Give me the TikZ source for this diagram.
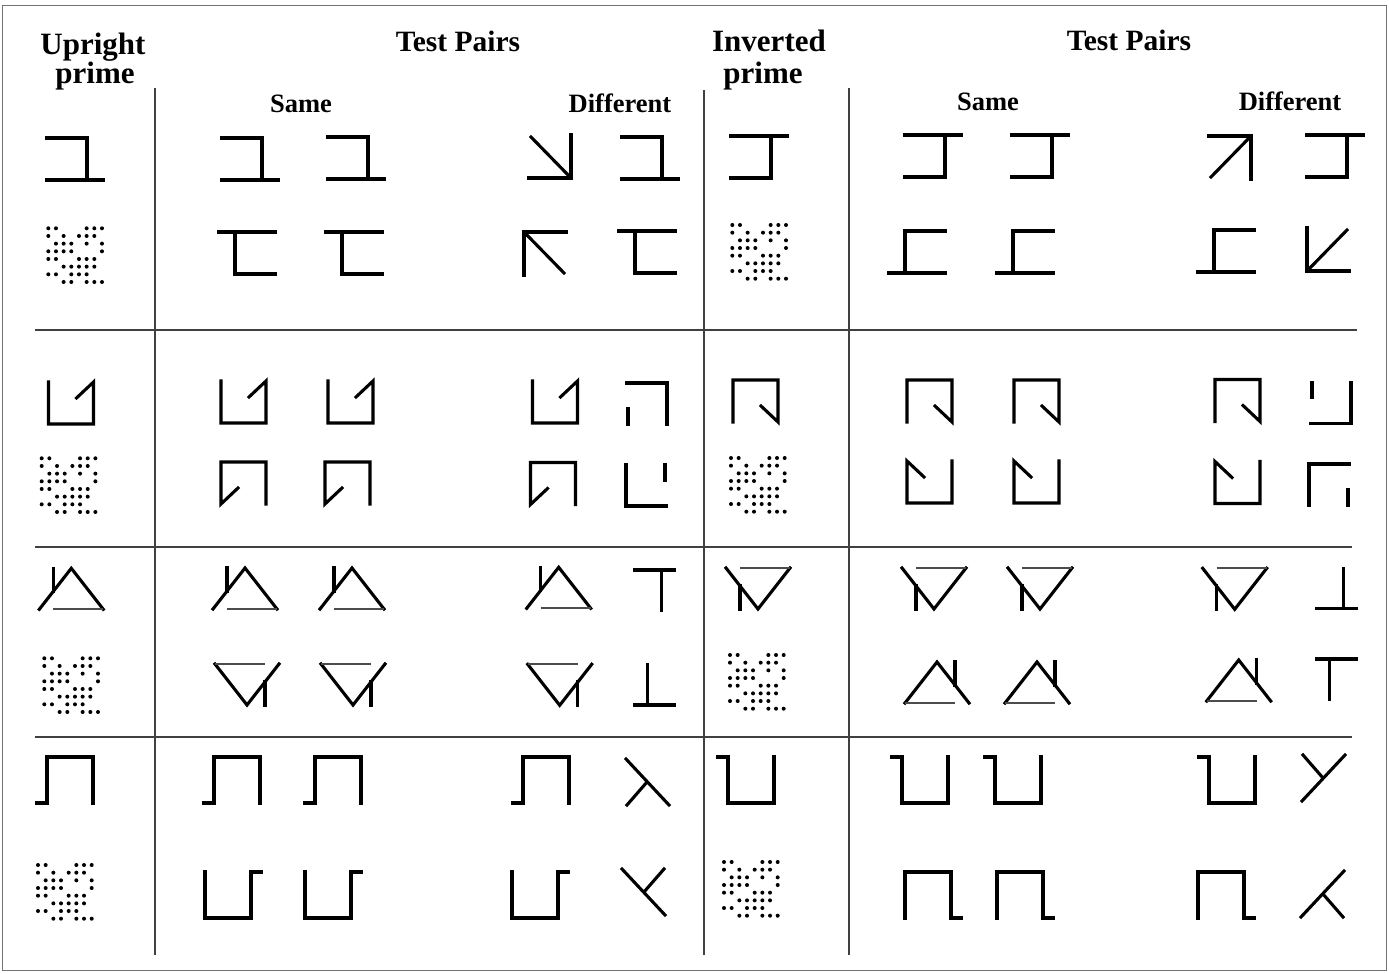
\documentclass[tikz,border=0pt]{standalone}
\usepackage{fontspec}
\setmainfont{Liberation Serif}
\begin{document}
\begin{tikzpicture}[x=1pt,y=-1pt,
  sh/.style={line width=3.1pt,line cap=rect,line join=miter},
  thinbase/.style={line width=1.8pt,black!70},
  gridline/.style={line width=1.4pt,black!75},
  frameline/.style={line width=0.8pt,black!55},
  hd/.style={font=\fontsize{31}{34}\selectfont\bfseries,inner sep=0pt,anchor=base},
  tp/.style={font=\fontsize{29.5}{32}\selectfont\bfseries,inner sep=0pt,anchor=base},
  sub/.style={font=\fontsize{26.5}{30}\selectfont\bfseries,inner sep=0pt,anchor=base},
  turned/.style={rotate=180},
  flipv/.style={yscale=-1},
  fliph/.style={xscale=-1},
  pics/brk/.style={code={\draw[sh] (-28,-21)--(12,-21)--(12,21); \draw[sh] (-28,21)--(28,21);}},
  pics/arw/.style={code={\draw[sh] (21,-21.5)--(21,21.5)--(-21,21.5); \draw[sh] (-19,-19.5)--(21,21.5);}},
  pics/sqp/.style={code={\draw[sh] (-22.5,-21)--(-22.5,21)--(22.5,21)--(22.5,-21)--(5.5,-5);}},
  pics/prt/.style={code={\draw[sh] (-20,-20.5)--(20,-20.5)--(20,20.5); \draw[sh] (-19,5.5)--(-19,20.5);}},
  pics/tri/.style={code={\draw[sh] (-32,20.5)--(0,-20.5)--(32,20.5); \draw[thinbase] (-18,20.5)--(32,20.5); \draw[sh] (-18,-20.5)--(-18,3);}},
  pics/tee/.style={code={\draw[sh] (-20,-20)--(20,-20); \draw[sh] (7,-20)--(7,20);}},
  pics/stp/.style={code={\draw[sh] (-28,23)--(-18,23)--(-18,-23)--(28,-23)--(28,23);}},
  pics/lam/.style={code={\draw[sh] (-21,-22)--(22,24); \draw[sh] (0,1)--(-20,24);}},
  pics/dots/.style={code={
    \foreach \rr/\cs in {0/{0,1,5,6,7},1/{0,2,4,5,6},2/{1,2,3,5,7},3/{0,1,2,3,7},4/{0,1,4,5,6},5/{2,3,4,5,6},6/{0,1,3,4,5},7/{2,3,5,6,7}}
      \foreach \cc in \cs \fill (\cc*7.67,\rr*7.67) circle (2.0pt);}}
]
\useasboundingbox (0,0) rectangle (1389,974);
\fill[white] (0,0) rectangle (1389,974);
\draw[frameline] (2,5) rectangle (1386,970);

% headers
\node[hd] (uptA) at (93,55) {Upright};
\node[hd] (uptB) at (95,84) {prime};
\node[tp] (tpL) at (458,52) {Test Pairs};
\node[sub] (smL) at (301,112) {Same};
\node[sub] (dfL) at (620,112) {Different};
\node[hd] (invA) at (769,52) {Inverted};
\node[hd] (invB) at (763,83) {prime};
\node[tp] (tpR) at (1129,51) {Test Pairs};
\node[sub] (smR) at (988,110) {Same};
\node[sub] (dfR) at (1290,110) {Different};

% grid lines
\draw[gridline] (155,88) -- (155,955);
\draw[gridline] (704,90) -- (704,955);
\draw[gridline] (849,88) -- (849,955);
\draw[gridline] (35,330) -- (1357,330);
\draw[gridline] (35,547) -- (1352,547);
\draw[gridline] (35,737) -- (1352,737);

% ---------- block 1
\pic at (75,159) {brk};
\pic at (48.3,228.3) {dots};
\pic at (250,159) {brk};
\pic at (356,158) {brk};
\pic at (550,156.5) {arw};
\pic at (650,158) {brk};
\pic[turned] at (247,253) {brk};
\pic[turned] at (354,253) {brk};
\pic[turned] at (545,253.5) {arw};
\pic[turned] at (647,252) {brk};
\pic[flipv] at (759,157) {brk};
\pic at (732.3,225) {dots};
\pic[flipv] at (933,156) {brk};
\pic[flipv] at (1040,156) {brk};
\pic[flipv] at (1230,157.5) {arw};
\pic[flipv] at (1335,156) {brk};
\pic[fliph] at (917,252) {brk};
\pic[fliph] at (1025,252) {brk};
\pic[fliph] at (1226,251) {brk};
\pic[fliph] at (1328,249.5) {arw};

% ---------- block 2
\pic at (71,403) {sqp};
\pic at (41.7,458.3) {dots};
\pic at (243.5,402) {sqp};
\pic at (350.5,402) {sqp};
\pic at (555,402) {sqp};
\pic at (647,403.5) {prt};
\pic[turned] at (243.5,483) {sqp};
\pic[turned] at (347.5,483) {sqp};
\pic[turned] at (553,483.5) {sqp};
\pic[turned] at (646,485.5) {prt};
\pic[flipv] at (755.5,401) {sqp};
\pic at (731,458) {dots};
\pic[flipv] at (929.5,401) {sqp};
\pic[flipv] at (1036.5,401) {sqp};
\pic[flipv] at (1237.5,400.5) {sqp};
\pic[flipv] at (1331,403) {prt};
\pic[fliph] at (929.5,482) {sqp};
\pic[fliph] at (1036.5,482) {sqp};
\pic[fliph] at (1237.5,482.5) {sqp};
\pic[fliph] at (1329,484.5) {prt};

% ---------- block 3
\pic at (71.3,588.8) {tri};
\pic at (44.3,658.3) {dots};
\pic at (245,588.5) {tri};
\pic at (352,588.5) {tri};
\pic at (558.7,587.8) {tri};
\pic at (654.3,590) {tee};
\pic[turned] at (247,684.5) {tri};
\pic[turned] at (353,684.5) {tri};
\pic[turned] at (559.7,684.8) {tri};
\pic[turned] at (654.3,685) {tee};
\pic[flipv] at (758,588.5) {tri};
\pic at (730,655) {dots};
\pic[flipv] at (934,588.5) {tri};
\pic[flipv] at (1040,588.5) {tri};
\pic[flipv] at (1234.7,588.8) {tri};
\pic[flipv] at (1336.7,588.8) {tee};
\pic[fliph] at (937,682.5) {tri};
\pic[fliph] at (1037,682.5) {tri};
\pic[fliph] at (1238.7,680.5) {tri};
\pic[fliph] at (1336.7,679) {tee};

% ---------- block 4
\pic at (65,780) {stp};
\pic at (38,865) {dots};
\pic at (232,780) {stp};
\pic at (333,780) {stp};
\pic at (541,780) {stp};
\pic at (647,781) {lam};
\pic[turned] at (233,895) {stp};
\pic[turned] at (333,895) {stp};
\pic[turned] at (540,895) {stp};
\pic[turned] at (644,893) {lam};
\pic[flipv] at (746,780) {stp};
\pic at (724,862) {dots};
\pic[flipv] at (920,780) {stp};
\pic[flipv] at (1013,780) {stp};
\pic[flipv] at (1227,780) {stp};
\pic[flipv] at (1323,779) {lam};
\pic[fliph] at (933,895) {stp};
\pic[fliph] at (1025,895) {stp};
\pic[fliph] at (1226,895) {stp};
\pic[fliph] at (1323,893) {lam};
\end{tikzpicture}
\end{document}
